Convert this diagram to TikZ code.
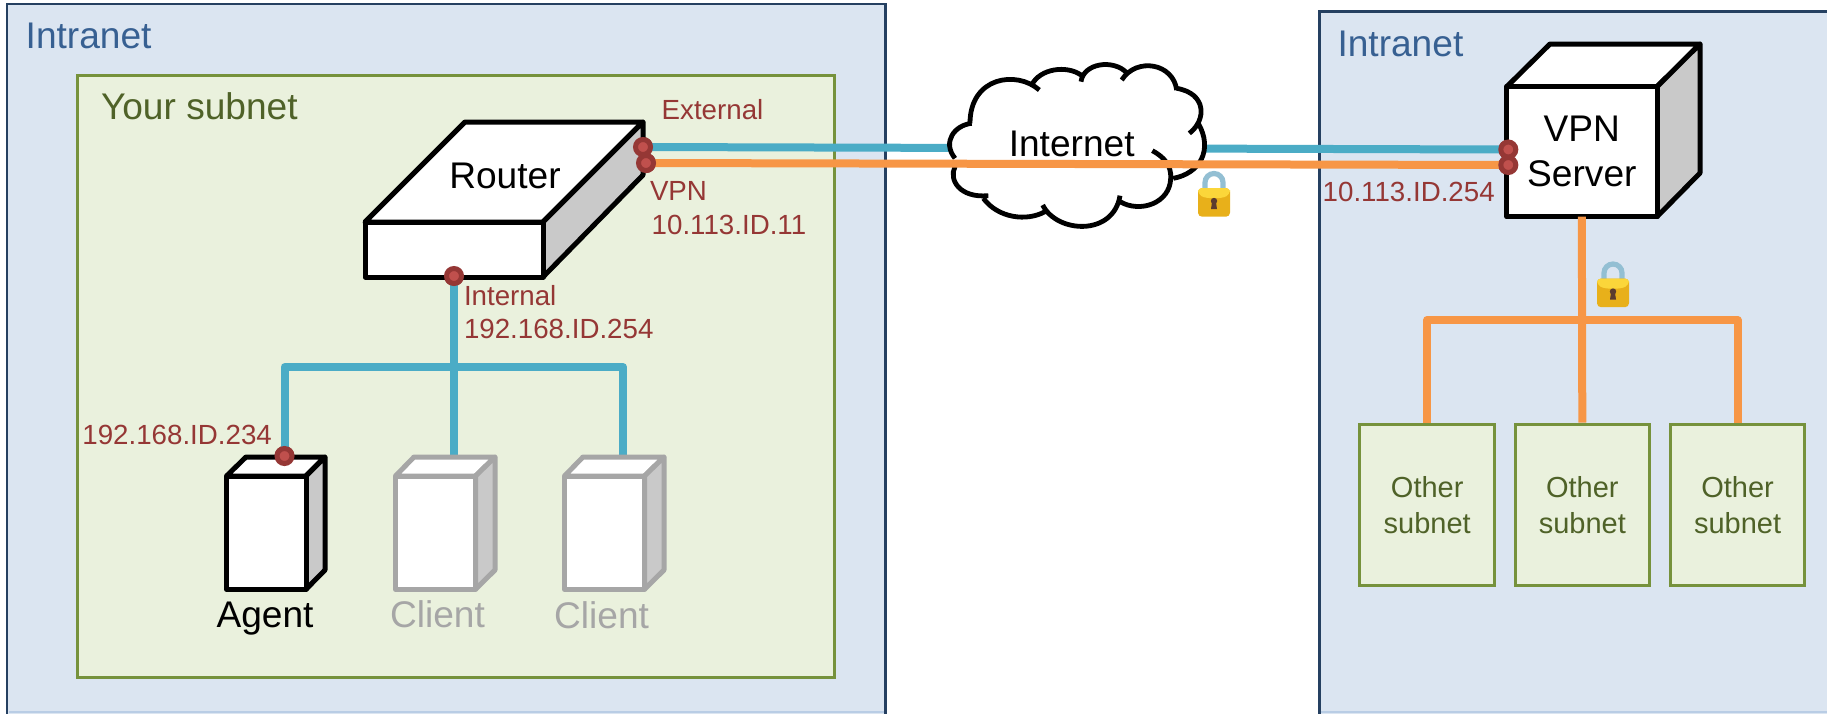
\documentclass[tikz,border=0pt]{standalone}
\usepackage{fontspec}
\setmainfont{Liberation Sans}
\definecolor{netfill}{HTML}{DBE5F1}
\definecolor{netline}{HTML}{254061}
\definecolor{nettext}{HTML}{376092}
\definecolor{subfill}{HTML}{EAF1DD}
\definecolor{subline}{HTML}{76923C}
\definecolor{subtext}{HTML}{4F6228}
\definecolor{redtext}{HTML}{953735}
\definecolor{redfill}{HTML}{C0504D}
\definecolor{bluewire}{HTML}{4BACC6}
\definecolor{orangewire}{HTML}{F79646}
\definecolor{sideface}{HTML}{C9C9C9}
\definecolor{dimgrey}{HTML}{A6A6A6}
\definecolor{edgelight}{HTML}{B9CDE5}
\definecolor{lockblue}{HTML}{93BFD3}
\definecolor{lockgold}{HTML}{E8B01A}
\definecolor{locktop}{HTML}{FBD63A}
\definecolor{lockdark}{HTML}{5A3B2E}
\tikzset{
  netbox/.style={draw=netline,fill=netfill,line width=1.4pt},
  subbox/.style={draw=subline,fill=subfill,line width=1.5pt},
  bigtext/.style={font=\fontsize{18.55}{22}\selectfont,inner sep=0pt,outer sep=0pt},
  smalltext/.style={font=\fontsize{13.85}{16}\selectfont,inner sep=0pt,outer sep=0pt,text=redtext},
  othertext/.style={font=\fontsize{14.5}{18}\selectfont,text=subtext,align=center,text width=60pt},
  bluewirestyle/.style={draw=bluewire,line width=4pt,line join=round},
  orangewirestyle/.style={draw=orangewire,line width=4pt,line join=round},
  port/.style={circle,draw=redtext,fill=redfill,line width=2.5pt,minimum size=7.5pt,inner sep=0pt},
  cubeline/.style={line width=2.5pt,line join=round},
  front/.style={rectangle,fill=white,cubeline,inner sep=0pt,outer sep=0pt,align=center},
  otherbox/.style={rectangle,draw=subline,fill=subfill,line width=1.5pt,minimum width=67.3pt,minimum height=80.5pt,inner sep=0pt},
  lockpic/.pic={
    \draw[draw=lockblue,line width=2.6pt] (-9,-3) -- (-9,-11.5) arc[start angle=180,end angle=360,radius=9] -- (9,-3);
    \fill[lockgold,rounded corners=2pt] (-16,-6) rectangle (16,22.7);
    \fill[locktop,rounded corners=2pt] (-16,-6) -- (16,-6) -- (16,0) .. controls (8,5) and (-8,5) .. (-16,0) -- cycle;
    \fill[lockdark] (0,7) circle[radius=3.2];
    \fill[lockdark] (-1.8,7) -- (1.8,7) -- (3,15) -- (-3,15) -- cycle;
  }
}
\begin{document}
\begin{tikzpicture}[x=0.5pt,y=-0.5pt]
\useasboundingbox (0,0) rectangle (1827,713);
% networks
\path[netbox] (7,4) rectangle (885.5,730);
\path[netbox] (1319.5,11.7) rectangle (1840,730);
\fill[edgelight] (9,711.3) rectangle (884,713);
\fill[edgelight] (1321,711.3) rectangle (1827,713);
\node[bigtext,text=nettext,anchor=base west] (intranetA) at (25.7,48.3) {Intranet};
\node[bigtext,text=nettext,anchor=base west] (intranetB) at (1337.5,56) {Intranet};
\path[subbox] (77.5,75.5) rectangle (834.7,677.5);
\node[bigtext,text=subtext,anchor=base west] (yoursubnet) at (101,119.3) {Your subnet};
% other subnets
\node[otherbox] (otherA) at (1427.2,504.5) {};
\node[otherbox] (otherB) at (1582.3,504.5) {};
\node[otherbox] (otherC) at (1737.6,504.5) {};
\foreach \n/\xx in {A/1427.2,B/1582.3,C/1737.6}{
  \node[othertext,anchor=base] (othertextone\n) at (\xx,497) {Other};
  \node[othertext,anchor=base] (othertexttwo\n) at (\xx,533) {subnet};
}
% port nodes
\node[port] (extA) at (643,147) {};
\node[port] (vpnA) at (646,163) {};
\node[port] (intA) at (454,276) {};
\node[port] (agentport) at (284.5,456) {};
\node[port] (extB) at (1508.3,149.5) {};
\node[port] (vpnB) at (1508.3,165) {};
\coordinate (clientAtop) at (454,458);
\coordinate (clientBtop) at (623,458);
\coordinate (busblue) at (454,367);
\coordinate (busorange) at (1582,320);
% blue wires
\draw[bluewirestyle] (intA.center) -- (clientAtop);
\draw[bluewirestyle] (agentport.center) -- (agentport.center |- busblue) -- (clientBtop |- busblue) -- (clientBtop);
\draw[bluewirestyle] (extA.center) -- (extB.center);
% cloud
\begin{scope}[shift={(920,30)},x=0.16667pt,y=-0.16667pt]
\fill[white] (155,280) .. controls (105,285) and (65,335) .. (105,385)
 -- (105,410) .. controls (85,450) and (120,505) .. (205,497)
 -- (190,505) .. controls (235,565) and (320,575) .. (375,545)
 -- (368,525) .. controls (410,610) and (580,620) .. (600,497)
 -- (600,515) .. controls (660,550) and (750,520) .. (752,445)
 -- (760,445) .. controls (840,430) and (880,360) .. (835,280)
 -- (808,310) .. controls (860,270) and (860,190) .. (770,175)
 -- (770,180) .. controls (760,100) and (650,80) .. (605,150)
 -- (622,130) .. controls (580,85) and (490,100) .. (483,155)
 -- (483,135) .. controls (440,105) and (360,115) .. (335,165)
 -- (358,180) .. controls (290,120) and (150,140) .. (150,280) -- cycle;
\draw[black,line width=2.4pt]
 (155,280) .. controls (105,285) and (65,335) .. (105,385)
 (105,410) .. controls (85,450) and (120,505) .. (205,497)
 (190,505) .. controls (235,565) and (320,575) .. (375,545)
 (368,525) .. controls (410,610) and (580,620) .. (600,497)
 (600,515) .. controls (660,550) and (750,520) .. (752,445)
 (752,445) .. controls (755,405) and (730,380) .. (697,362)
 (760,445) .. controls (840,430) and (880,360) .. (835,280)
 (808,310) .. controls (860,270) and (860,190) .. (770,175)
 (770,180) .. controls (760,100) and (650,80) .. (605,150)
 (622,130) .. controls (580,85) and (490,100) .. (483,155)
 (483,135) .. controls (440,105) and (360,115) .. (335,165)
 (358,180) .. controls (290,120) and (150,140) .. (150,280);
\end{scope}
\node[bigtext,anchor=base] (internet) at (1071.7,156.7) {Internet};
% orange wires
\draw[orangewirestyle] (vpnA.center) -- (vpnB.center);
% router
\path[fill=white,draw=black,cubeline] (465,122) -- (643,122) -- (543,222) -- (365,222) -- cycle;
\path[fill=sideface,draw=black,cubeline] (643,122) -- (643,175) -- (543,277) -- (543,222) -- cycle;
\node[front,draw=black,minimum width=89pt,minimum height=27.5pt] (routerfront) at (454,249.5) {};
\node[bigtext,anchor=base] (router) at (505,188) {Router};
% VPN server
\path[fill=white,draw=black,cubeline] (1550,44) -- (1700,44) -- (1657,86.7) -- (1506.7,86.7) -- cycle;
\path[fill=sideface,draw=black,cubeline] (1700,44) -- (1700,173) -- (1657,216.7) -- (1657,86.7) -- cycle;
\node[front,draw=black,minimum width=75.15pt,minimum height=65pt] (vpnfront) at (1581.85,151.7) {};
\node[bigtext,anchor=base] (vpnone) at (1581.85,141.7) {VPN};
\node[bigtext,anchor=base] (vpntwo) at (1581.85,186) {Server};
% orange bus
\draw[orangewirestyle] (vpnfront.south) -- (otherB.north);
\draw[orangewirestyle] (otherA.north) -- (otherA.north |- busorange) -- (otherC.north |- busorange) -- (otherC.north);
% hosts
\path[fill=white,draw=black,cubeline] (246,457) -- (325,457) -- (306,476) -- (226.5,476) -- cycle;
\path[fill=sideface,draw=black,cubeline] (325,457) -- (325,570) -- (306,589.3) -- (306,476) -- cycle;
\node[front,draw=black,minimum width=39.75pt,minimum height=56.65pt] (agentfront) at (266.25,532.65) {};
\path[fill=white,draw=dimgrey,cubeline] (414,457) -- (495,457) -- (475.5,476) -- (395.5,476) -- cycle;
\path[fill=sideface,draw=dimgrey,cubeline] (495,457) -- (495,570) -- (475.5,589.3) -- (475.5,476) -- cycle;
\node[front,draw=dimgrey,minimum width=40pt,minimum height=56.65pt] (clientAfront) at (435.5,532.65) {};
\path[fill=white,draw=dimgrey,cubeline] (583,457) -- (664,457) -- (644.5,476) -- (564.5,476) -- cycle;
\path[fill=sideface,draw=dimgrey,cubeline] (664,457) -- (664,570) -- (644.5,589.3) -- (644.5,476) -- cycle;
\node[front,draw=dimgrey,minimum width=40pt,minimum height=56.65pt] (clientBfront) at (604.5,532.65) {};
\node[bigtext,anchor=base] (agentlabel) at (265,627) {Agent};
\node[bigtext,anchor=base,text=dimgrey] (clientAlabel) at (437.5,627) {Client};
\node[bigtext,anchor=base,text=dimgrey] (clientBlabel) at (601.6,628) {Client};
% ports on top
\node[port] at (extA) {};
\node[port] at (vpnA) {};
\node[port] at (intA) {};
\node[port] at (agentport) {};
\node[port] at (extB) {};
\node[port] at (vpnB) {};
% locks
\pic at (1214,194) {lockpic};
\pic at (1613,284.5) {lockpic};
% address labels
\node[smalltext,anchor=base west] (lblext) at (661.7,119.3) {External};
\node[smalltext,anchor=base west] (lblvpn) at (650,200.7) {VPN};
\node[smalltext,anchor=base west] (lblvpnip) at (651.7,234) {10.113.ID.11};
\node[smalltext,anchor=base west] (lblint) at (464,305) {Internal};
\node[smalltext,anchor=base west] (lblintip) at (464,338) {192.168.ID.254};
\node[smalltext,anchor=base west] (lblagent) at (82.4,444) {192.168.ID.234};
\node[smalltext,anchor=base west] (lblserver) at (1322.7,201.7) {10.113.ID.254};
\end{tikzpicture}
\end{document}
